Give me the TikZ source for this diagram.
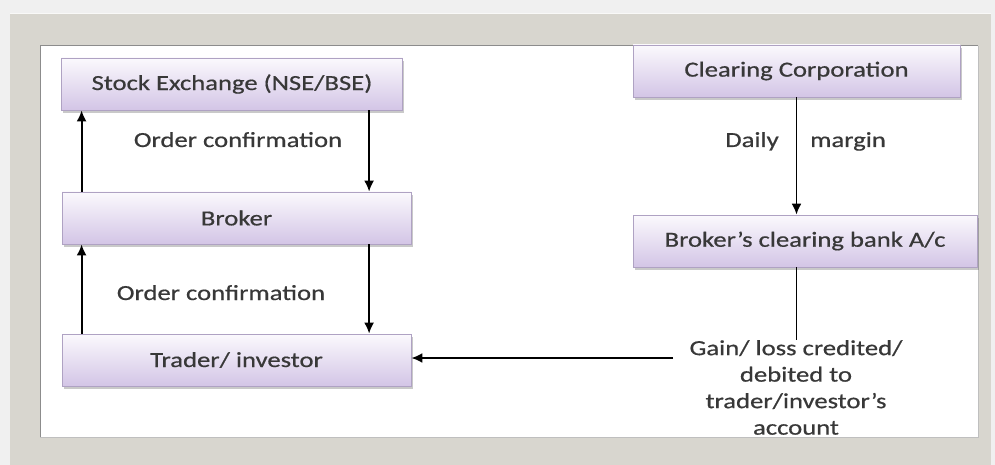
\documentclass[tikz,border=0pt]{standalone}
\usepackage{fontspec}
\setmainfont[FakeStretch=1.24,FakeBold=0.6]{Carlito}
\usetikzlibrary{arrows.meta,shadows,calc}
\definecolor{txt}{HTML}{383838}
\definecolor{frame}{HTML}{D8D6CF}
\definecolor{boxtop}{HTML}{FBF9FD}
\definecolor{boxbot}{HTML}{D3C5E6}
\definecolor{boxline}{HTML}{AFA2C3}
\tikzset{
  x=1pt, y=-1pt,
  flowbox/.style={rectangle, draw=boxline, line width=0.8pt,
    top color=boxtop, bottom color=boxbot, text=txt,
    font=\fontsize{21.5}{26}\selectfont,
    drop shadow={shadow xshift=1.5pt, shadow yshift=-3pt, opacity=0.35, fill=black!60}},
  lbl/.style={text=txt, font=\fontsize{21.5}{26}\selectfont, anchor=base, inner sep=0pt},
  arr/.style={line width=1.9pt, -{Latex[length=11pt,width=10pt]}},
  plain/.style={line width=1.9pt}
}
\begin{document}
\begin{tikzpicture}
% canvas and frame
\useasboundingbox (0,0) rectangle (995,465);
\fill[black!6] (0,0) rectangle (995,465);
\fill[frame] (10,13) rectangle (991,465);
\draw[white!85!frame, line width=1pt] (10,14) -- (991,14);
\fill[white] (40,46) rectangle (978,437);
\draw[black!45, line width=1pt] (40,437) -- (40,46) -- (978,46);
\draw[black!25, line width=1pt] (978,46) -- (978,437) -- (40,437);

% left column
\node[flowbox, minimum width=341pt, minimum height=52pt] (se) at (232,84) {Stock Exchange (NSE/BSE)};
\node[flowbox, minimum width=349pt, minimum height=52pt] (broker) at (236.5,218) {Broker};
\node[flowbox, minimum width=349pt, minimum height=52pt] (trader) at (236.5,360) {Trader/ investor};

% right column
\node[flowbox, minimum width=327pt, minimum height=52pt] (cc) at (796.5,71) {Clearing Corporation};
\node[flowbox, minimum width=344pt, minimum height=52pt] (bank) at (805,241) {Broker’s clearing bank A/c};

% order flow
\draw[arr] ([xshift=20pt]broker.north west) -- ([xshift=20pt]broker.north west |- se.south);
\draw[arr] ([xshift=308pt]se.south west) -- ([xshift=308pt]se.south west |- broker.north);
\draw[arr] ([xshift=20pt]trader.north west) -- ([xshift=20pt]trader.north west |- broker.south);
\draw[arr] ([xshift=308pt]se.south west |- broker.south) -- ([xshift=308pt]se.south west |- trader.north);
\node[lbl] (oc1) at (238,147) {Order confirmation};
\node[lbl] (oc2) at (221,300) {Order confirmation};

% settlement flow
\draw[arr] (cc.south) -- (cc.south |- bank.north);
\node[lbl] (daily) at (752,147) {Daily};
\node[lbl] (margin) at (848,147) {margin};
\begin{scope}
\clip (40,46) rectangle (978,436);
\node[text=txt, font=\fontsize{21.5}{26.5}\selectfont, align=center, anchor=north, inner sep=0pt] (gain) at (796,340)
  {Gain/ loss credited/\\debited to\\trader/investor’s\\account};
\end{scope}
\draw[plain] (cc.south |- bank.south) -- (cc.south |- gain.north);
\coordinate (gl) at (673,358);
\draw[arr] (gl) -- (gl -| trader.east);
\end{tikzpicture}
\end{document}
